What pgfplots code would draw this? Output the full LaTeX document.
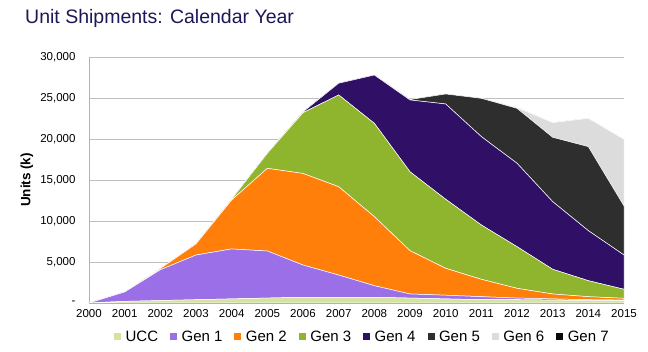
\documentclass[border=0pt]{standalone}
\usepackage{pgfplots}
\pgfplotsset{compat=1.18}
\usepackage{pgfplotstable}
\usepackage{fontspec}
\setmainfont{Liberation Sans}
\definecolor{titlecol}{RGB}{28,24,88}
\definecolor{cucc}{HTML}{D4E3A0}
\definecolor{cg1}{HTML}{9B6FE8}
\definecolor{cg2}{HTML}{FF7F0A}
\definecolor{cg3}{HTML}{8FB52E}
\definecolor{cg4}{HTML}{2F1066}
\definecolor{cg5}{HTML}{2E2E2E}
\definecolor{cg6}{HTML}{DCDCDC}
\definecolor{cg7}{HTML}{0A0A0A}
\pgfplotstableread{
year ucc g1 g2 g3 g4 g5 g6 g7
2000 0 0 0 0 0 0 0 0
2001 200 1140 0 0 0 0 0 0
2002 300 3750 150 0 0 0 0 0
2003 400 5450 1350 0 0 0 0 0
2004 500 6090 5970 100 0 0 0 0
2005 600 5740 10080 1830 0 0 0 0
2006 700 3930 11170 7400 100 0 0 0
2007 700 2710 10770 11190 1430 0 0 0
2008 700 1410 8420 11380 5890 0 0 0
2009 600 500 5280 9620 8760 50 0 0
2010 500 450 3280 8420 11620 1220 0 0
2011 400 370 2120 6620 10780 4670 0 0
2012 400 200 1190 5080 10170 6700 100 0
2013 350 150 600 3010 8250 7850 1790 0
2014 300 100 370 1950 6100 10250 3450 0
2015 300 50 220 1100 4180 5980 8130 0
}\data
\begin{document}
\begin{tikzpicture}
\useasboundingbox (-89pt,-49pt) rectangle (559pt,303pt);
\begin{axis}[
  at={(0,0)}, anchor=south west,
  scale only axis, width=535pt, height=246pt,
  xmin=2000, xmax=2015, ymin=0, ymax=30000,
  stack plots=y,
  scaled y ticks=false, scaled x ticks=false,
  axis x line*=bottom, axis y line*=left,
  axis line style={draw=gray!60, line width=0.8pt, -},
  ymajorgrids, grid style={gray!50, line width=0.8pt},
  major tick length=0pt,
  xtick={2000,2001,2002,2003,2004,2005,2006,2007,2008,2009,2010,2011,2012,2013,2014,2015},
  xticklabels={2000,2001,2002,2003,2004,2005,2006,2007,2008,2009,2010,2011,2012,2013,2014,2015},
  ytick={0,5000,10000,15000,20000,25000,30000},
  yticklabels={-,{5,000},{10,000},{15,000},{20,000},{25,000},{30,000}},
  tick label style={font=\fontsize{11.5}{12}\selectfont},
  yticklabel style={xshift=-10pt},
  xticklabel style={yshift=-3pt},
  ylabel={Units (k)},
  every axis y label/.style={at={([xshift=-62pt]axis description cs:0,0.5)}, rotate=90, anchor=center, font=\fontsize{13.5}{15}\selectfont\bfseries},
  legend columns=8,
  legend style={draw=none, fill=none, at={(0.511,-0.138)}, anchor=center,
    font=\fontsize{15}{16}\selectfont,
    /tikz/every odd column/.append style={column sep=2.5pt},
    /tikz/every even column/.append style={column sep=10pt}},
  legend image code/.code={\path[#1,draw=none] (0pt,-3.5pt) rectangle (7pt,3.5pt);},
  every axis plot/.append style={draw=white, line width=0.5pt},
]
\addplot[fill=cucc, draw=white] table[x=year,y=ucc] {\data} \closedcycle;
\addplot[fill=cg1, draw=white] table[x=year,y=g1] {\data} \closedcycle;
\addplot[fill=cg2, draw=white] table[x=year,y=g2] {\data} \closedcycle;
\addplot[fill=cg3, draw=white] table[x=year,y=g3] {\data} \closedcycle;
\addplot[fill=cg4, draw=white] table[x=year,y=g4] {\data} \closedcycle;
\addplot[fill=cg5, draw=white] table[x=year,y=g5] {\data} \closedcycle;
\addplot[fill=cg6, draw=white] table[x=year,y=g6] {\data} \closedcycle;
\addplot[fill=cg7, draw=white] table[x=year,y=g7] {\data} \closedcycle;
\legend{UCC,Gen 1,Gen 2,Gen 3,Gen 4,Gen 5,Gen 6,Gen 7}
\end{axis}
\node[anchor=base west, inner sep=0pt, text=titlecol, font=\fontsize{19.5}{22}\selectfont] at (-64pt,279pt) {Unit Shipments: Calendar Year};
\end{tikzpicture}
\end{document}
